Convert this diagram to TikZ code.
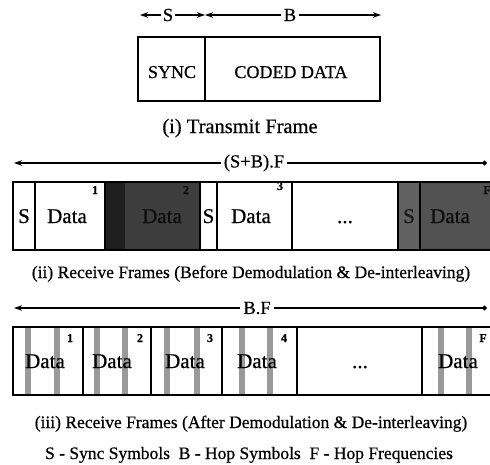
\documentclass[tikz,border=0pt]{standalone}
\usepackage{fontspec}
\setmainfont{Liberation Serif}[FakeBold=0.6]
\usetikzlibrary{arrows.meta}
\begin{document}
\begin{tikzpicture}[x=1pt,y=-1pt,
  seg/.style={draw, line width=1.8pt, anchor=north west, inner sep=0pt, outer sep=0pt},
  boxtxt/.style={font=\fontsize{21}{21}\selectfont, inner sep=0pt, anchor=base},
  toptxt/.style={font=\fontsize{18}{18}\selectfont, inner sep=0pt, anchor=base},
  captxt/.style={font=\fontsize{17.5}{17.5}\selectfont, inner sep=0pt, anchor=base},
  lbltxt/.style={font=\fontsize{18.5}{18.5}\selectfont, inner sep=3pt, fill=white},
  supr/.style={font=\bfseries\fontsize{12}{12}\selectfont, inner sep=0pt, anchor=base},
  dimline/.style={line width=1.1pt},
  tipa/.style={-{Stealth[length=8pt,width=5.5pt]}},
  dotend/.style={-{Circle[length=5pt]}},
  stripe/.style={fill=black!40, draw=none},
  darkfill/.style={fill=black!76},
  midfill/.style={fill=black!62},
  middfill/.style={fill=black!68}
]
\useasboundingbox (0,0) rectangle (490,464);

% ---------- (i) transmit frame ----------
\node[lbltxt, inner sep=2pt] (Sl) at (168,15) {S};
\node[lbltxt] (Bl) at (290,15) {B};
\coordinate (t0) at (140,15);
\coordinate (tm) at (205,15);
\coordinate (t1) at (381,15);
\draw[dimline,tipa] (Sl.west) -- (t0);
\draw[dimline,tipa] (Sl.east) -- (tm);
\draw[dimline,tipa] (Bl.west) -- (tm);
\draw[dimline,tipa] (Bl.east) -- (t1);

\node[seg, minimum width=67pt, minimum height=64pt] (sync) at (138,37) {};
\node[seg, minimum width=175pt, minimum height=64pt] (coded) at (205,37) {};
\node[toptxt] at (172,78) {SYNC};
\node[toptxt] at (291,78) {CODED DATA};
\node[captxt, font=\fontsize{20.5}{20.5}\selectfont] (c1) at (240,133) {(i) Transmit Frame};

% ---------- (ii) receive frames before ----------
\coordinate (r0) at (14,163);
\coordinate (r1) at (487,163);
\node[lbltxt] (SBF) at (254,163) {(S+B).F};
\draw[dimline,tipa] (SBF.west) -- (r0);
\draw[dimline,dotend] (SBF.east) -- (r1);

\node[seg, minimum width=22pt, minimum height=68pt] (a1) at (13,182) {};
\node[seg, minimum width=70pt, minimum height=68pt] (a2) at (35,182) {};
\node[seg, darkfill, minimum width=95pt, minimum height=68pt] (a3) at (105,182) {};
\fill[black!88] (106,183) rectangle (125,249);
\node[seg, minimum width=17pt, minimum height=68pt] (a4) at (200,182) {};
\node[seg, minimum width=75pt, minimum height=68pt] (a5) at (217,182) {};
\node[seg, minimum width=106pt, minimum height=68pt] (a6) at (292,182) {};
\node[seg, midfill, minimum width=22pt, minimum height=68pt] (a7) at (398,182) {};
\node[seg, middfill, minimum width=75pt, minimum height=68pt] (a8) at (420,182) {};

\node[boxtxt] at (24,223) {S};
\node[boxtxt] at (67,223) {Data};
\node[supr] at (95,194) {1};
\node[boxtxt, text=black!95] at (162,223) {Data};
\node[supr, text=black!95] at (186,194) {2};
\node[boxtxt] at (208.5,223) {S};
\node[boxtxt] at (251,223) {Data};
\node[supr] at (280,190) {3};
\node[boxtxt] at (345,223) {...};
\node[boxtxt, text=black!90] at (409,223) {S};
\node[boxtxt, text=black!95] at (450,223) {Data};
\node[supr, text=black!95] at (487,194) {F};

\node[captxt] (c2) at (251,278) {(ii) Receive Frames (Before Demodulation \& De-interleaving)};

% ---------- (iii) receive frames after ----------
\coordinate (q0) at (14,308);
\coordinate (q1) at (487,308);
\node[lbltxt] (BF) at (257,308) {B.F};
\draw[dimline,tipa] (BF.west) -- (q0);
\draw[dimline,dotend] (BF.east) -- (q1);

\foreach \x in {28,57,97,125,167,197,242,270,441,469}
  \fill[stripe] (\x-2.8,328) rectangle (\x+2.8,394);

\node[seg, minimum width=70pt, minimum height=68pt] (b1) at (13,327) {};
\node[seg, minimum width=68pt, minimum height=68pt] (b2) at (83,327) {};
\node[seg, minimum width=71pt, minimum height=68pt] (b3) at (151,327) {};
\node[seg, minimum width=75pt, minimum height=68pt] (b4) at (222,327) {};
\node[seg, minimum width=125pt, minimum height=68pt] (b5) at (297,327) {};
\node[seg, minimum width=75pt, minimum height=68pt] (b6) at (422,327) {};

\node[boxtxt] at (45,368) {Data};
\node[supr] at (70,342) {1};
\node[boxtxt] at (112,368) {Data};
\node[supr] at (140,342) {2};
\node[boxtxt] at (185,368) {Data};
\node[supr] at (210,342) {3};
\node[boxtxt] at (257,368) {Data};
\node[supr] at (284,342) {4};
\node[boxtxt] at (360,368) {...};
\node[boxtxt] at (458,368) {Data};
\node[supr] at (483,342) {F};

\node[captxt] (c3) at (251,428) {(iii) Receive Frames (After Demodulation \& De-interleaving)};
\node[captxt] (leg) at (249,459) {S - Sync Symbols\ \ B - Hop Symbols\ \ F - Hop Frequencies};
\end{tikzpicture}
\end{document}
